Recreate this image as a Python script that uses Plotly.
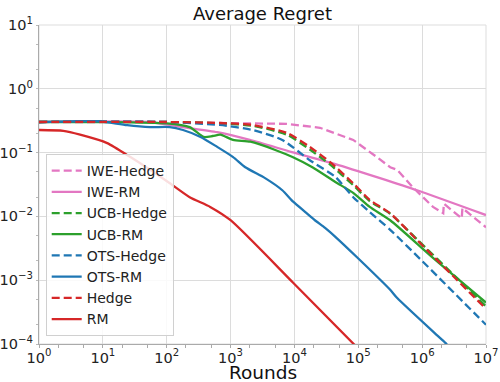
import plotly.graph_objects as go

# Average regret curves (log-log axes)
iwe_hedge_rounds = [1, 100, 676, 7590, 25100, 83200, 195000, 316000, 407000, 724000,
                    1.48e6, 2.14e6, 2.19e6, 4.17e6, 4.27e6, 1e7]
iwe_hedge_regret = [0.302, 0.302, 0.291, 0.282, 0.245, 0.158, 0.0851, 0.0589, 0.0537, 0.0282,
                    0.0141, 0.0112, 0.0158, 0.00933, 0.0135, 0.00676]

iwe_rm_rounds = [1, 55, 178, 617, 2000, 9120, 43700, 219000, 832000, 1e7]
iwe_rm_regret = [0.302, 0.302, 0.251, 0.209, 0.158, 0.102, 0.0661, 0.0398, 0.0257, 0.0105]

hedge_rounds = [1, 100, 676, 2240, 7590, 17400, 36300, 83200, 151000, 316000, 832000, 3.55e6, 1e7]
ucb_hedge_regret = [0.302, 0.302, 0.288, 0.263, 0.191, 0.112, 0.0646, 0.0309, 0.0174, 0.0110,
                    0.00437, 0.00107, 3.89e-4]
hedge_regret = [0.302, 0.302, 0.291, 0.271, 0.204, 0.123, 0.0708, 0.0331, 0.0182, 0.0112,
                0.00427, 0.001, 3.55e-4]

ucb_rm_rounds = [1, 10, 100, 229, 380, 525, 692, 1096, 2040, 5010, 9330, 19100, 43700, 83200,
                 151000, 316000, 1.48e6, 1e7]
ucb_rm_regret = [0.302, 0.302, 0.288, 0.251, 0.176, 0.182, 0.191, 0.158, 0.148, 0.110, 0.0851,
                 0.0589, 0.0347, 0.0234, 0.0141, 0.00871, 0.00224, 4.47e-4]

ots_hedge_rounds = [1, 100, 676, 2240, 6460, 17400, 43700, 83200, 151000, 316000, 1e6, 1e7]
ots_hedge_regret = [0.302, 0.302, 0.271, 0.226, 0.158, 0.0759, 0.0417, 0.0200, 0.0117, 0.00617,
                    0.00200, 2.0e-4]

ots_rm_rounds = [1, 4, 9, 24, 55, 112, 180, 339, 617, 1096, 1700, 3470, 6460, 9550, 14800,
                 20900, 30200, 43700, 95500, 316000, 407000, 1.70e6, 2.29e6, 2.82e6]
ots_rm_regret = [0.30, 0.31, 0.31, 0.269, 0.251, 0.251, 0.226, 0.176, 0.123, 0.0851, 0.0589,
                 0.0398, 0.0257, 0.0170, 0.0117, 0.00871, 0.00661, 0.00479, 0.00229, 7.08e-4,
                 5.25e-4, 1.38e-4, 1.05e-4, 8.3e-5]

rm_rounds = [1, 2.4, 4.4, 11.7, 27, 55, 112, 229, 479, 1000, 9550, 89100]
rm_regret = [0.226, 0.219, 0.191, 0.141, 0.0851, 0.0537, 0.0331, 0.0200, 0.0141, 0.00871,
             9.12e-4, 9.5e-5]

x_tickvals = [1, 10, 100, 1e3, 1e4, 1e5, 1e6, 1e7]
x_ticktext = ["10<sup>0</sup>", "10<sup>1</sup>", "10<sup>2</sup>", "10<sup>3</sup>",
              "10<sup>4</sup>", "10<sup>5</sup>", "10<sup>6</sup>", "10<sup>7</sup>"]
y_tickvals = [1e-4, 1e-3, 1e-2, 1e-1, 1, 10]
y_ticktext = ["10<sup>\u22124</sup>", "10<sup>\u22123</sup>", "10<sup>\u22122</sup>",
              "10<sup>\u22121</sup>", "10<sup>0</sup>", "10<sup>1</sup>"]

PINK, GREEN, BLUE, RED = "#e377c2", "#2ca02c", "#1f77b4", "#d62728"
DASH = "8px,4px"

series = [
    ("IWE-Hedge", iwe_hedge_rounds, iwe_hedge_regret, PINK, DASH, "linear"),
    ("IWE-RM", iwe_rm_rounds, iwe_rm_regret, PINK, "solid", "spline"),
    ("UCB-Hedge", hedge_rounds, ucb_hedge_regret, GREEN, DASH, "spline"),
    ("UCB-RM", ucb_rm_rounds, ucb_rm_regret, GREEN, "solid", "spline"),
    ("OTS-Hedge", ots_hedge_rounds, ots_hedge_regret, BLUE, DASH, "spline"),
    ("OTS-RM", ots_rm_rounds, ots_rm_regret, BLUE, "solid", "spline"),
    ("Hedge", hedge_rounds, hedge_regret, RED, DASH, "spline"),
    ("RM", rm_rounds, rm_regret, RED, "solid", "spline"),
]

fig = go.Figure()
for name, xs, ys, color, dash, shape in series:
    line = dict(color=color, width=2.3, dash=dash, shape=shape)
    if shape == "spline":
        line["smoothing"] = 0.6
    fig.add_trace(go.Scatter(x=xs, y=ys, mode="lines", name=name, line=line))

axis_font = dict(family="DejaVu Sans", size=14.5, color="#222")

fig.update_xaxes(type="log", range=[0, 7], tickvals=x_tickvals, ticktext=x_ticktext,
                 tickfont=axis_font, showgrid=True, gridcolor="#dcdcdc", gridwidth=1,
                 showline=True, linecolor="#aaaaaa", linewidth=1.2, ticks="",
                 minor=dict(ticks="outside", ticklen=3, tickcolor="#aaaaaa", showgrid=False),
                 automargin=False, zeroline=False)
fig.update_yaxes(type="log", range=[-4, 1], tickvals=y_tickvals, ticktext=y_ticktext,
                 tickfont=axis_font, showgrid=True, gridcolor="#dcdcdc", gridwidth=1,
                 showline=True, linecolor="#aaaaaa", linewidth=1.2, ticks="",
                 minor=dict(ticks="outside", ticklen=2, tickcolor="#bbbbbb", showgrid=False),
                 ticklabelstandoff=2, automargin=False, zeroline=False)

# light frame around the plotting area
fig.add_shape(type="rect", xref="paper", yref="paper", x0=0, x1=1, y0=0, y1=1,
              line=dict(color="#dddddd", width=1), layer="below")

# x axis title placed by hand so it sits just under the tick labels
fig.add_annotation(text="Rounds", xref="paper", yref="paper", x=0.5, y=-0.09,
                   xanchor="center", yanchor="middle", showarrow=False,
                   font=dict(family="DejaVu Sans", size=18.5, color="#111"))

fig.update_layout(
    width=500, height=382,
    margin=dict(l=39, r=14, t=25, b=38),
    paper_bgcolor="white", plot_bgcolor="white",
    title=dict(text="Average Regret", x=0.525, xanchor="center", y=0.965, yanchor="middle",
               font=dict(family="DejaVu Sans", size=18, color="#111")),
    legend=dict(x=0.015, y=0.025, xanchor="left", yanchor="bottom",
                bgcolor="rgba(255,255,255,0.85)", bordercolor="#d0d0d0", borderwidth=1,
                font=dict(family="DejaVu Sans", size=14, color="#222"),
                tracegroupgap=0),
    showlegend=True,
)

# drop the default page margin so the figure sits at the window's corner
fig.write_html("out.html", config={"displayModeBar": False},
               post_script="document.body.style.margin='0';")
